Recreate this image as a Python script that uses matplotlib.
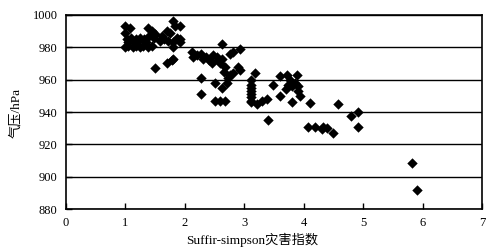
import matplotlib
matplotlib.use("Agg")
import matplotlib.pyplot as plt

# Saffir-Simpson index (x) and pressure hPa (y)
x_c1 = [1.00, 1.08, 0.99, 1.38, 1.44, 1.02, 1.10, 1.18, 1.25, 1.32, 1.40, 1.48,
        1.00, 1.05, 1.12, 1.18, 1.25, 1.30, 1.38, 1.45, 1.05, 1.15, 1.22, 1.35,
        1.80, 1.83, 1.92, 1.70, 1.50, 1.61, 1.75, 1.86, 1.72, 1.80, 1.92, 1.80,
        1.65, 1.58, 1.80, 1.70, 1.78, 1.50, 1.92]
y_c1 = [993, 992, 989, 992, 990, 985, 986, 985, 986, 985, 987, 986,
        980, 981, 980, 981, 980, 981, 980, 981, 983, 983, 984, 983,
        996, 993, 993, 990, 988, 987, 989, 986, 984, 983, 985, 980,
        985, 984, 973, 970, 972, 967, 983]

x_c2 = [2.12, 2.14, 2.20, 2.27, 2.30, 2.35, 2.40, 2.48, 2.54, 2.62, 2.63, 2.59,
        2.68, 2.76, 2.81, 2.93, 2.76, 2.81, 2.93, 2.90, 2.28, 2.51, 2.71, 2.62,
        2.28, 2.51, 2.59, 2.68, 2.55, 2.45, 2.66, 2.72]
y_c2 = [977, 974, 975, 976, 973, 974, 972, 975, 974, 982, 973, 970,
        968, 976, 977, 979, 963, 964, 966, 968, 961, 958, 958, 955,
        951, 947, 947, 947, 972, 970, 965, 961]

x_c3 = [3.12, 3.12, 3.12, 3.12, 3.12, 3.12, 3.12, 3.12, 3.18, 3.21, 3.29, 3.38,
        3.40, 3.49, 3.60, 3.72, 3.88, 3.77, 3.74, 3.80, 3.91, 3.91, 3.94, 3.60,
        3.80, 3.70, 3.85]
y_c3 = [960, 957, 955, 953, 951, 949, 947, 946, 964, 945, 947, 948,
        935, 957, 962, 963, 963, 960, 957, 956, 956, 953, 950, 950,
        946, 954, 958]

x_c4 = [4.10, 4.58, 4.07, 4.19, 4.30, 4.39, 4.50, 4.33, 4.79, 4.92, 4.92, 5.82, 5.91]
y_c4 = [945.5, 945, 931, 931, 929.5, 930, 927, 931, 937.5, 940, 931, 908.5, 891.5]

x_ticks = [0, 1, 2, 3, 4, 5, 6, 7]
y_ticks = [880, 900, 920, 940, 960, 980, 1000]

serif = ["Liberation Serif", "Noto Sans CJK SC"]

fig = plt.figure(figsize=(4.87, 2.52), dpi=100)
ax = fig.add_axes([0.1355, 0.1706, 0.8542, 0.7699])

for xs, ys in [(x_c1, y_c1), (x_c2, y_c2), (x_c3, y_c3), (x_c4, y_c4)]:
    ax.scatter(xs, ys, marker="D", s=28, color="black", linewidths=0, zorder=3)

ax.set_xlim(0, 7)
ax.set_ylim(880, 1000)
ax.set_xticks(x_ticks)
ax.set_yticks(y_ticks)
ax.yaxis.grid(True, color="black", linewidth=1.0)
ax.set_axisbelow(True)
ax.tick_params(direction="in", length=4, width=1, pad=6, labelsize=9)
for lab in ax.get_xticklabels() + ax.get_yticklabels():
    lab.set_family(serif)
for sp in ax.spines.values():
    sp.set_linewidth(1.2)

ax.set_xlabel("Suffir-simpson灾害指数", family=serif, fontsize=9.5)
ax.xaxis.set_label_coords(0.447, -0.125)
ax.set_ylabel("气压/hPa", family=serif, fontsize=9.5)
ax.yaxis.set_label_coords(-0.105, 0.495)

fig.savefig("out.png", dpi=100)
